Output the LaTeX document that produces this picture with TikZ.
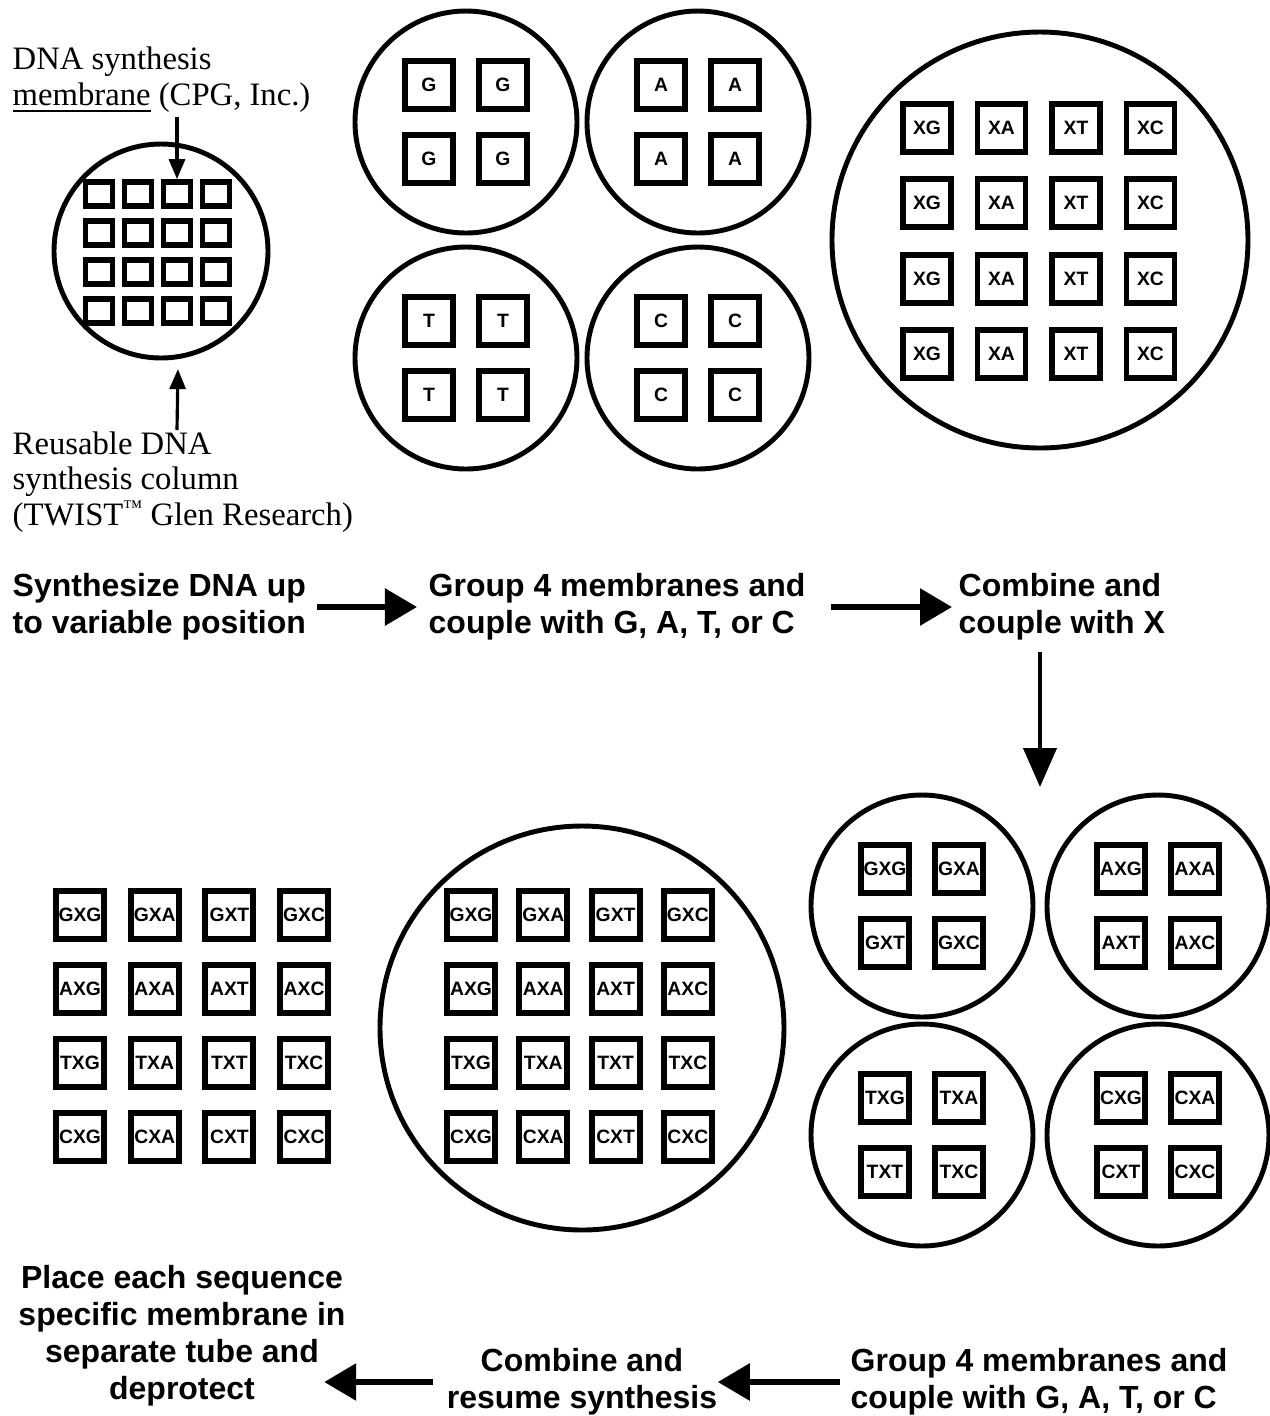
\documentclass[tikz,border=0pt]{standalone}
\usepackage{fontspec}
\setmainfont{Liberation Serif}
\setsansfont{Liberation Sans}
\usetikzlibrary{arrows.meta}

\begin{document}
\begin{tikzpicture}[y=-1cm,
  ring/.style={circle,draw,line width=1.4pt,inner sep=0pt},
  memb/.style={draw,line width=1.7pt,minimum size=0.48cm,inner sep=0pt,
    font=\sffamily\bfseries\fontsize{5.5}{5.5}\selectfont},
  spot/.style={draw,line width=1.6pt,minimum width=0.27cm,minimum height=0.24cm,inner sep=0pt},
  note/.style={align=left,inner sep=0pt,font=\fontsize{9.3}{10.2}\selectfont},
  stage/.style={inner sep=0pt,font=\sffamily\bfseries\fontsize{9.1}{10.5}\selectfont},
  flow/.style={line width=1.7pt,-{Triangle[length=0.32cm,width=0.36cm]}},
  down/.style={line width=1.2pt,-{Triangle[length=0.39cm,width=0.33cm]}},
  tick/.style={line width=0.9pt,-{Triangle[length=0.2cm,width=0.16cm]}}]
  \useasboundingbox (0,0) rectangle (12.7,14.16);
  % reusable column holding the membranes
  \node[note,anchor=west] (memtxt) at (0.12,0.80) {DNA synthesis\\\underline{membrane} (CPG, Inc.)};
  \node[note,anchor=west] (coltxt) at (0.12,4.82) {Reusable DNA\\synthesis column\\(TWIST\raisebox{0.38em}{\fontsize{5.5}{5.5}\selectfont ™} Glen Research)};
  \node[ring,minimum size=2.14cm] (col) at (1.61,2.51) {};
  \foreach \r in {0,...,3}
    \foreach \c in {0,...,3}
      \node[spot] (m-\r-\c) at (0.99+0.39*\c,1.94+0.39*\r) {};
  \coordinate (mtop) at (1.77,1.17);
  \coordinate (cbot) at (1.77,4.30);
  \draw[tick] (mtop) -- (m-0-2);
  \draw[tick,shorten >=0.1cm] (cbot) -- (col.-81);
  % first coupling: one base per group of four
  \foreach \b/\x/\y in {G/4.66/1.22, A/6.98/1.22, T/4.66/3.58, C/6.98/3.58} {
    \node[ring,minimum size=2.22cm] (one-\b) at (\x,\y) {};
    \foreach \dx/\dy/\k in {-0.37/-0.37/1, 0.37/-0.37/2, -0.37/0.37/3, 0.37/0.37/4}
      \node[memb] (one-\b-\k) at (\x+\dx,\y+\dy) {\b};
  }
  % all sixteen combined and coupled with X
  \node[ring,minimum size=4.16cm] (mix) at (10.40,2.40) {};
  \foreach \b [count=\c from 0] in {G,A,T,C}
    \foreach \r in {0,...,3}
      \node[memb] (mix-\r-\c) at (9.27+0.745*\c,1.28+0.753*\r) {X\b};
  % steps, first row
  \node[stage,anchor=west,align=left] (syn) at (0.12,6.07) {Synthesize DNA up\\to variable position};
  \node[stage,anchor=west,align=left] (grp) at (4.28,6.07) {Group 4 membranes and\\couple with G, A, T, or C};
  \node[stage,anchor=west,align=left] (cmb) at (9.58,6.07) {Combine and\\couple with X};
  \draw[flow,shorten <=0.1cm,shorten >=0.11cm] (syn) -- (grp);
  \draw[flow,shorten <=0.25cm,shorten >=0.06cm] (grp) -- (cmb);
  \coordinate (d0) at (10.40,6.52);
  \coordinate (d1) at (10.40,7.87);
  \draw[down] (d0) -- (d1);
  % second coupling
  \foreach \a/\x/\y in {G/9.22/9.06, A/11.58/9.06, T/9.22/11.35, C/11.58/11.35} {
    \node[ring,minimum size=2.22cm] (two-\a) at (\x,\y) {};
    \foreach \dx/\dy/\b in {-0.37/-0.37/G, 0.37/-0.37/A, -0.37/0.37/T, 0.37/0.37/C}
      \node[memb] (two-\a-\b) at (\x+\dx,\y+\dy) {\a X\b};
  }
  % combined again, then one tube each
  \node[ring,minimum size=4.04cm] (pool) at (5.82,10.28) {};
  \foreach \a [count=\r from 0] in {G,A,T,C}
    \foreach \b [count=\c from 0] in {G,A,T,C} {
      \node[memb] (pool-\a\b) at (4.71+0.723*\c,9.15+0.74*\r) {\a X\b};
      \node[memb] (tube-\a\b) at (0.80+0.747*\c,9.15+0.74*\r) {\a X\b};
    }
  % steps, last row
  \node[stage,align=center] (place) at (1.82,13.36) {Place each sequence\\specific membrane in\\separate tube and\\deprotect};
  \node[stage,align=center] (resume) at (5.82,13.82) {Combine and\\resume synthesis};
  \node[stage,anchor=west,align=left] (grp2) at (8.50,13.82) {Group 4 membranes and\\couple with G, A, T, or C};
  \draw[flow,shorten <=0.1cm] (grp2) -- (resume);
  \draw[flow,shorten <=0.13cm,shorten >=-0.22cm] (resume.west) -- (resume.west -| place.east);
\end{tikzpicture}
\end{document}
